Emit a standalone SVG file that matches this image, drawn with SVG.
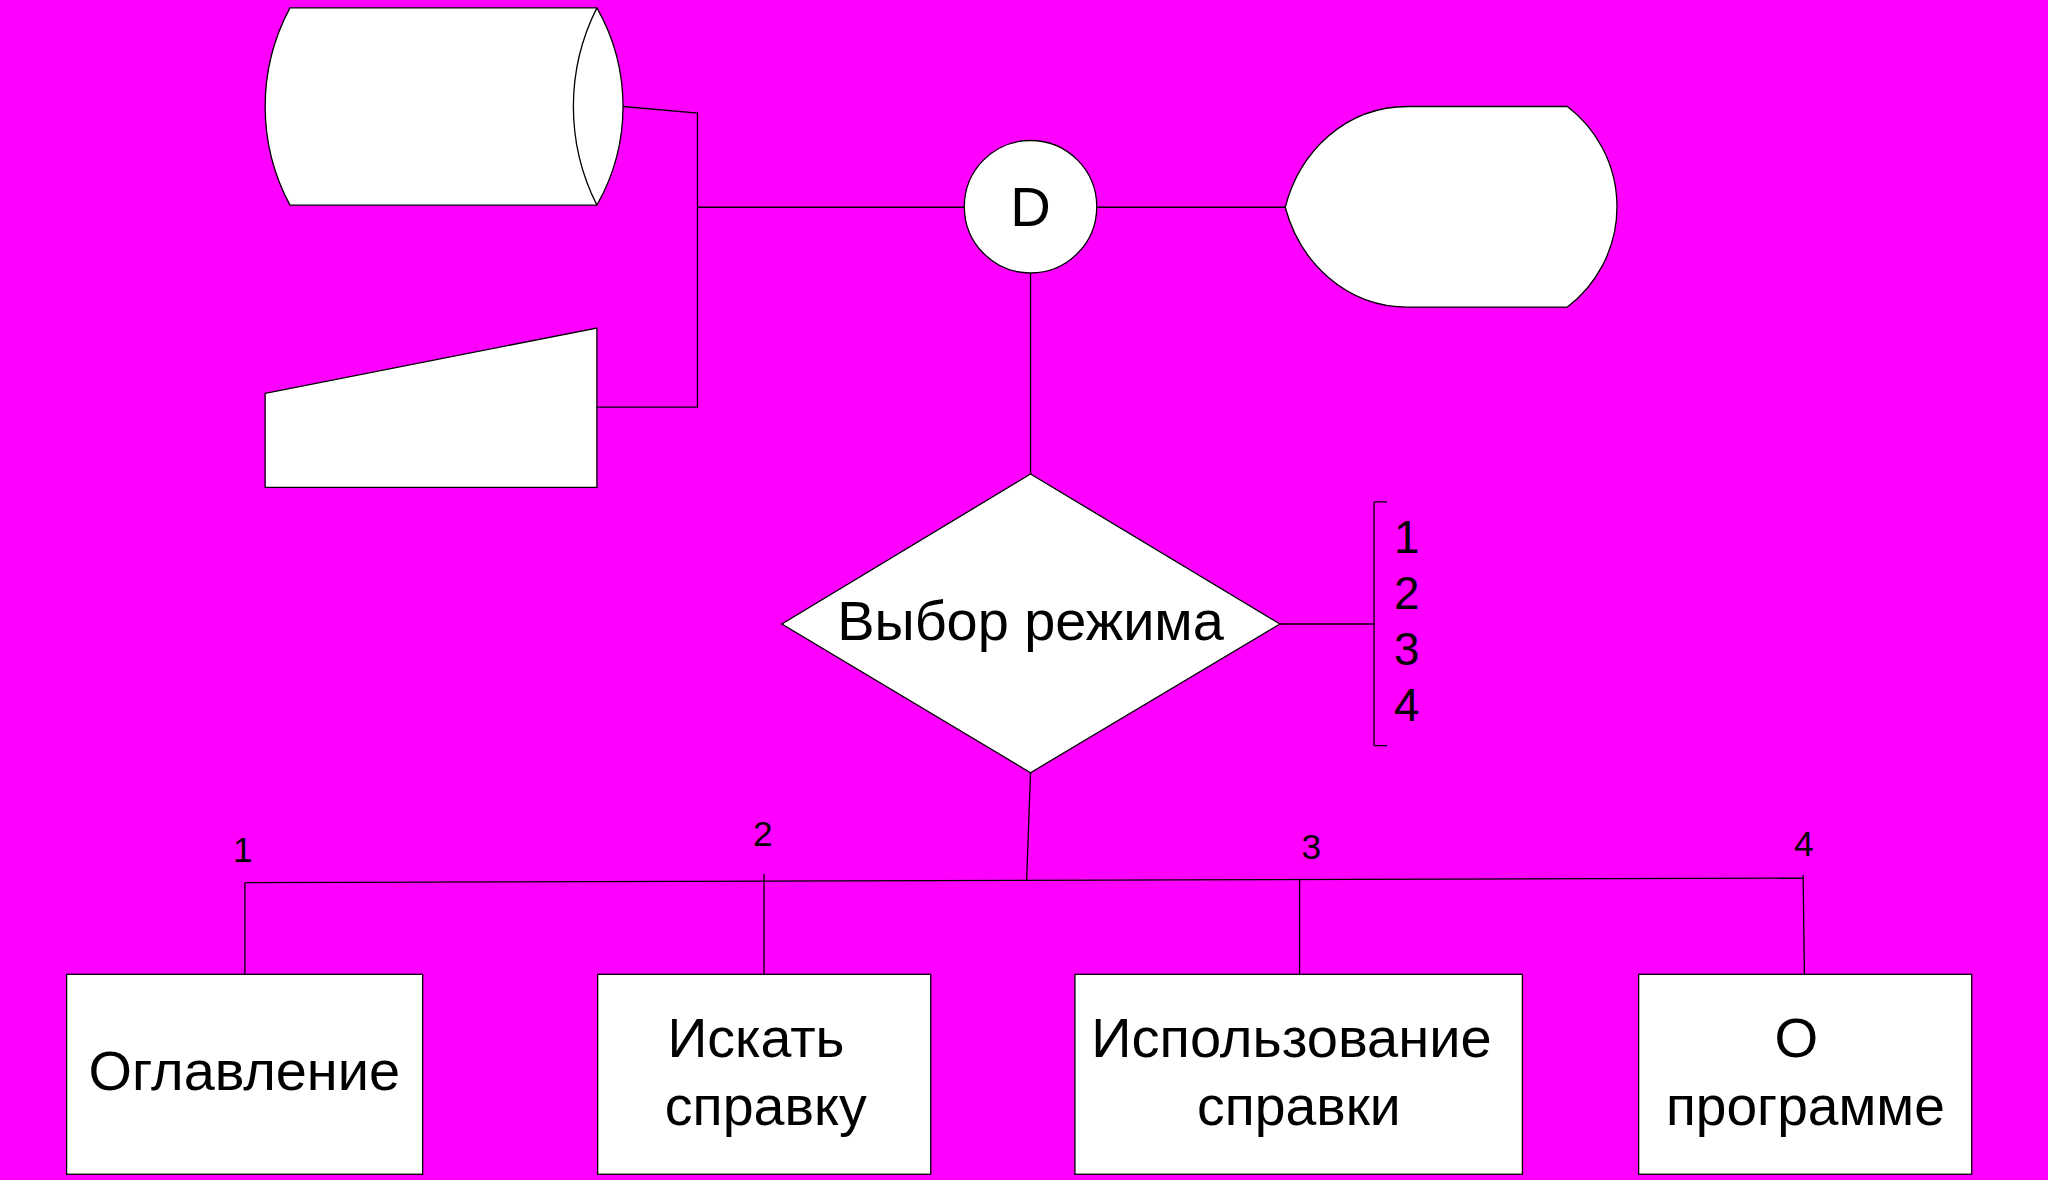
<svg xmlns="http://www.w3.org/2000/svg" width="2048" height="1180" viewBox="0 0 2048 1180">
<style>
.shape{fill:#ffffff;stroke:#000000;stroke-width:1}
.ln{fill:none;stroke:#000000;stroke-width:1}
text{font-family:"Liberation Sans",Arial,sans-serif;fill:#000000}
.big{font-size:43px}
.num{font-size:35px}
.sm{font-size:27px}
</style>
<rect x="0" y="0" width="2048" height="1180" fill="#ff00ff"/>
<g transform="scale(1.30612,1.30676)">
<g id="connectors">
<polyline class="ln" points="477,81.5 534,86.5 534,311.5 457,311.5"/>
<line class="ln" x1="534" y1="158.6" x2="738.5" y2="158.6"/>
<line class="ln" x1="839.5" y1="158.6" x2="984" y2="158.6"/>
<line class="ln" x1="789" y1="209" x2="789" y2="362.7"/>
<line class="ln" x1="980" y1="477.5" x2="1052" y2="477.5"/>
<line class="ln" x1="789" y1="591.3" x2="786" y2="673.7"/>
<line class="ln" x1="187.5" y1="675.5" x2="1381" y2="672"/>
<line class="ln" x1="187.5" y1="675.5" x2="187.5" y2="745.6"/>
<line class="ln" x1="585" y1="669" x2="585" y2="745.6"/>
<line class="ln" x1="995" y1="673" x2="995" y2="745.6"/>
<line class="ln" x1="1380.5" y1="669.6" x2="1381.5" y2="745.6"/>
<text class="sm" x="186" y="659.4" text-anchor="middle">1</text>
<text class="sm" x="584" y="647.4" text-anchor="middle">2</text>
<text class="sm" x="1004" y="657.3" text-anchor="middle">3</text>
<text class="sm" x="1381" y="655" text-anchor="middle">4</text>
</g>
<g id="storage">
<path class="shape" d="M222,6 L457,6 A152.5,152.5 0 0 1 457,157 L222,157 A159.5,159.5 0 0 1 222,6 Z"/>
<path class="ln" d="M457,6 A167.3,167.3 0 0 0 457,157"/>
</g>
<g id="manual-input">
<polygon class="shape" points="203,301 457,251 457,373 203,373"/>
</g>
<g id="connector-D">
<circle class="shape" cx="789" cy="158.2" r="50.7"/>
<text class="big" x="789" y="173.2" text-anchor="middle">D</text>
</g>
<g id="display">
<path class="shape" d="M1078,81.5 L1200,81.5 A96.5,96.5 0 0 1 1200,235 L1078,235 C1030,235 995,200 984,158.6 C995,116 1030,81.5 1078,81.5 Z"/>
</g>
<g id="decision">
<polygon class="shape" points="789,362.7 980,477.5 789,591.3 598.6,477.5"/>
<text class="big" x="789" y="489.7" text-anchor="middle" textLength="296" lengthAdjust="spacingAndGlyphs">Выбор режима</text>
</g>
<g id="options">
<polyline class="ln" points="1062,384 1052,384 1052,570.6 1062,570.6"/>
<text class="num" x="1077" y="423" text-anchor="middle">1</text>
<text class="num" x="1077" y="465.8" text-anchor="middle">2</text>
<text class="num" x="1077" y="508.8" text-anchor="middle">3</text>
<text class="num" x="1077" y="551.8" text-anchor="middle">4</text>
</g>
<g id="box1">
<rect class="shape" x="51" y="745.6" width="272.6" height="153"/>
<text class="big" x="187" y="834" text-anchor="middle" textLength="238.5" lengthAdjust="spacingAndGlyphs">Оглавление</text>
</g>
<g id="box2">
<rect class="shape" x="457.6" y="745.6" width="255" height="153"/>
<text class="big" x="578.8" y="808.6" text-anchor="middle" textLength="135.6" lengthAdjust="spacingAndGlyphs">Искать</text>
<text class="big" x="586.3" y="861" text-anchor="middle" textLength="154.6" lengthAdjust="spacingAndGlyphs">справку</text>
</g>
<g id="box3">
<rect class="shape" x="823" y="745.6" width="342.6" height="153"/>
<text class="big" x="988.8" y="808.6" text-anchor="middle" textLength="306.6" lengthAdjust="spacingAndGlyphs">Использование</text>
<text class="big" x="994.5" y="861" text-anchor="middle" textLength="156" lengthAdjust="spacingAndGlyphs">справки</text>
</g>
<g id="box4">
<rect class="shape" x="1254.6" y="745.6" width="255" height="153"/>
<text class="big" x="1375.3" y="808.6" text-anchor="middle">О</text>
<text class="big" x="1382.3" y="861" text-anchor="middle" textLength="213.5" lengthAdjust="spacingAndGlyphs">программе</text>
</g>
</g>
</svg>
